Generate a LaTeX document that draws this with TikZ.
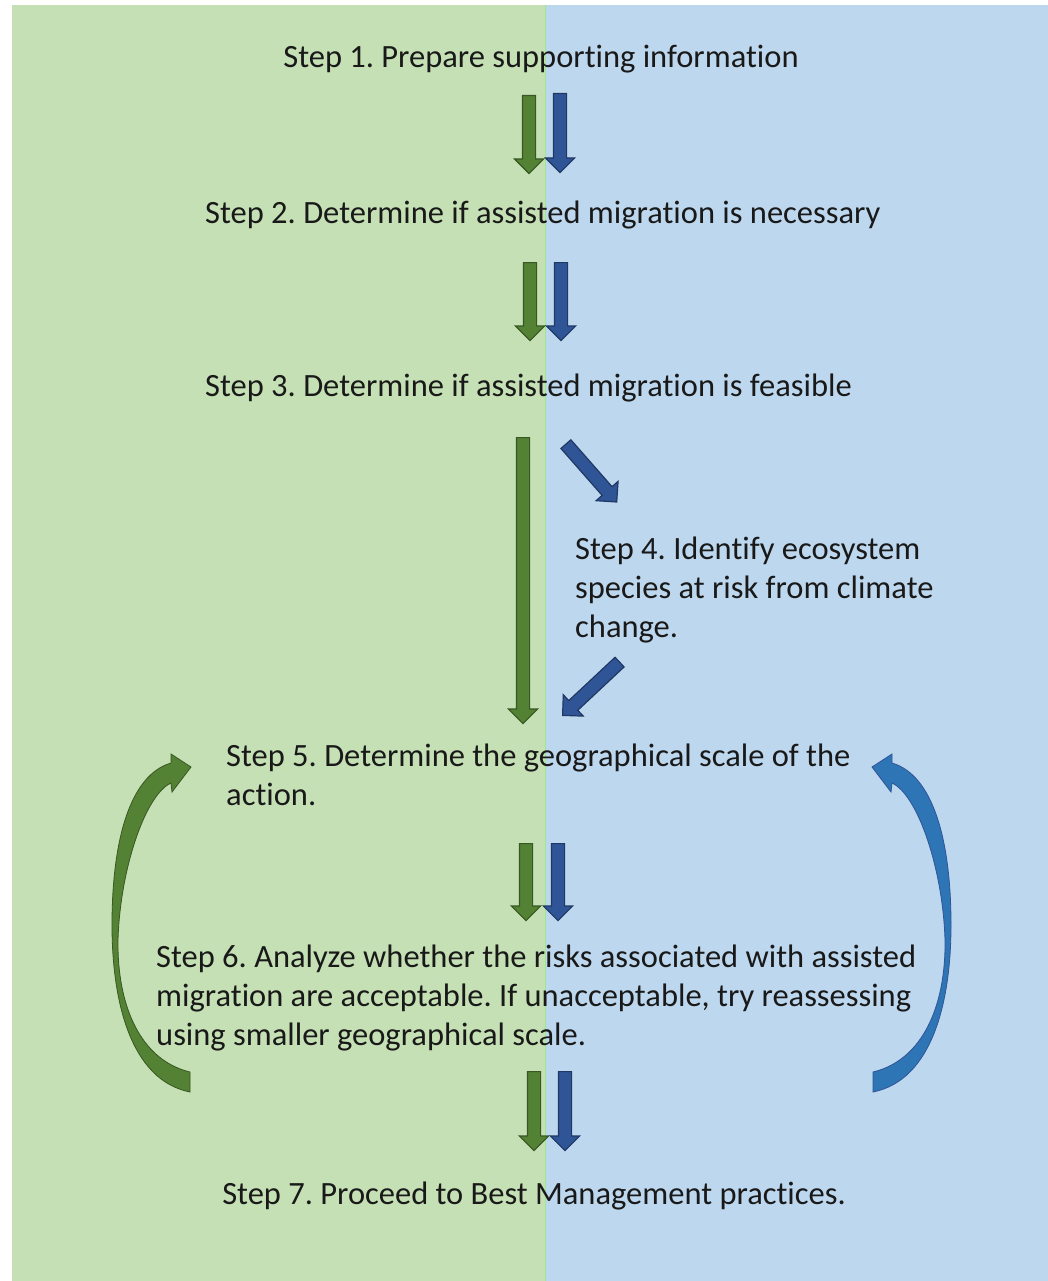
\documentclass[tikz,border=0pt]{standalone}
\usepackage{fontspec}
\setmainfont{Carlito}[Ligatures=NoCommon]
\usepackage{tikz}
\usetikzlibrary{shapes.arrows}
\frenchspacing

\definecolor{greenbg}{HTML}{C5E0B4}
\definecolor{bluebg}{HTML}{BDD7EE}
\definecolor{greenfill}{HTML}{548235}
\definecolor{greenline}{HTML}{385723}
\definecolor{bluefill}{HTML}{2F5597}
\definecolor{blueline}{HTML}{203864}
\definecolor{curvefill}{HTML}{2E75B6}
\definecolor{curveline}{HTML}{2F5597}

\begin{document}
\begin{tikzpicture}[x=1pt, y=-1pt,
	steptext/.style={inner sep=0pt, text=black!90, font=\fontsize{32.5}{39}\selectfont},
	blockarrow/.style={single arrow, anchor=tail, line width=1.2pt, inner sep=6pt, single arrow head extend=8pt},
	greenarrow/.style={blockarrow, draw=greenline, fill=greenfill},
	bluearrow/.style={blockarrow, draw=blueline, fill=bluefill}]
	\useasboundingbox (0,0) rectangle (1048,1281);
	% two background panels
	\fill[greenbg] (12,5) rectangle (545,1281);
	\fill[bluebg] (545,5) rectangle (1048,1281);
	\draw[greenbg!80!green, line width=0.6pt] (545,5) -- (545,1281);
	% steps (multi-line nodes sit on the baseline of their last line)
	\node[steptext, anchor=base] (s1) at (541,68) {Step 1. Prepare supporting information};
	\node[steptext, anchor=base west] (s2) at (205,224) {Step 2. Determine if assisted migration is necessary};
	\node[steptext, anchor=base west] (s3) at (205,396) {Step 3. Determine if assisted migration is feasible};
	\node[steptext, anchor=base west, align=left] (s4) at (575,637) {Step 4. Identify ecosystem\\species at risk from climate\\change.};
	\node[steptext, anchor=base west, align=left] (s5) at (226,805) {Step 5. Determine the geographical scale of the\\action.};
	\node[steptext, anchor=base west, align=left] (s6) at (156,1045) {Step 6. Analyze whether the risks associated with assisted\\migration are acceptable. If unacceptable, try reassessing\\using smaller geographical scale.};
	\node[steptext, anchor=base] (s7) at (534,1204) {Step 7. Proceed to Best Management practices.};
	% block arrows
	\node[greenarrow, rotate=-90, minimum height=78pt] (g1) at (529,95) {};
	\node[bluearrow, rotate=-90, minimum height=79pt] (b1) at (560,93) {};
	\node[greenarrow, rotate=-90, minimum height=78pt] (g2) at (530,262) {};
	\node[bluearrow, rotate=-90, minimum height=78pt] (b2) at (561,262) {};
	\node[greenarrow, rotate=-90, minimum height=286pt] (g3) at (523,437) {};
	\node[bluearrow, rotate=-48.7, minimum height=77pt] (b3) at (565.5,443.7) {};
	\node[bluearrow, rotate=-136.9, minimum height=78pt] (b4) at (620,661.7) {};
	\node[greenarrow, rotate=-90, minimum height=77pt] (g5) at (526,843) {};
	\node[bluearrow, rotate=-90, minimum height=77pt] (b5) at (558,843) {};
	\node[greenarrow, rotate=-90, minimum height=79pt] (g6) at (534,1071) {};
	\node[bluearrow, rotate=-90, minimum height=79pt] (b6) at (565,1071) {};
	% curved arrows back to step 5
	\filldraw[fill=greenfill, draw=greenline, line width=0.8pt]
		(190,1092) .. controls (130,1080) and (112,1000) .. (112,925)
		.. controls (112,840) and (130,775) .. (171,763) -- (171,754) -- (191,767) -- (172,792) -- (171,783)
		.. controls (145,795) and (120,870) .. (118,940)
		.. controls (117,1005) and (140,1060) .. (190,1072) -- cycle;
	\begin{scope}[xshift=1063pt, xscale=-1]
	\filldraw[fill=curvefill, draw=curveline, line width=0.8pt]
		(190,1092) .. controls (130,1080) and (112,1000) .. (112,925)
		.. controls (112,840) and (130,775) .. (171,763) -- (171,754) -- (191,767) -- (172,792) -- (171,783)
		.. controls (145,795) and (120,870) .. (118,940)
		.. controls (117,1005) and (140,1060) .. (190,1072) -- cycle;
	\end{scope}
\end{tikzpicture}
\end{document}
